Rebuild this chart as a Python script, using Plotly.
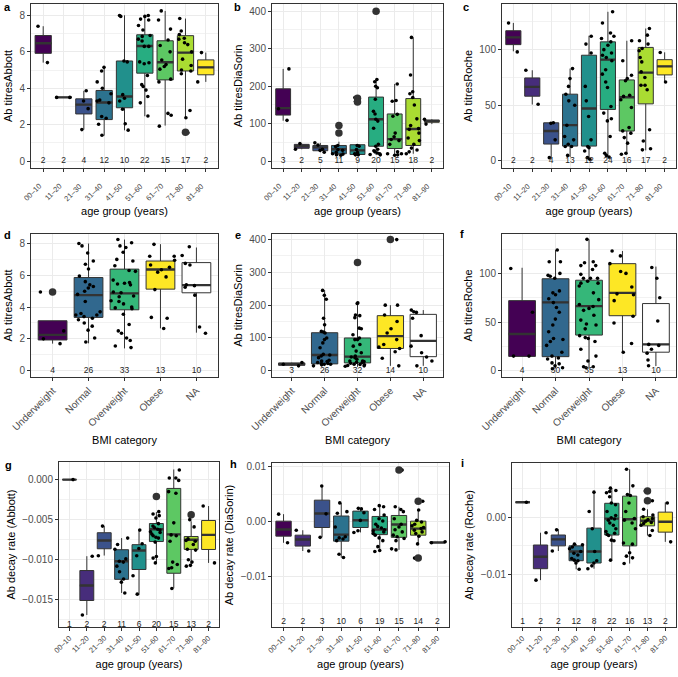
import plotly.graph_objects as go

W, H = 678, 677
FONT = "Liberation Sans, Arial, Helvetica, sans-serif"

AGE = ["00\u201310", "11\u201320", "21\u201330", "31\u201340", "41\u201350",
       "51\u201360", "61\u201370", "71\u201380", "81\u201390"]
BMI = ["Underweight", "Normal", "Overweight", "Obese", "NA"]
AGE_COLORS = ["#440154", "#472D7B", "#3B528B", "#2C728E", "#21908C",
              "#27AD81", "#5DC863", "#AADC32", "#FDE725"]
BMI_COLORS = ["#440154", "#31688E", "#35B779", "#FDE725", "#FFFFFF"]

# ---------------- panel a : Ab titres Abbott by age ----------------
a_counts = [2, 2, 4, 12, 10, 22, 15, 17, 2]
a_q1 = [5.92, 3.5, 2.59, 2.28, 2.93, 4.83, 4.46, 4.95, 4.74]
a_med = [6.47, 3.5, 3.10, 3.22, 3.55, 6.32, 5.43, 5.96, 5.15]
a_q3 = [6.90, 3.5, 3.42, 3.88, 5.50, 6.94, 6.61, 6.89, 5.56]
a_lo = [5.41, 3.5, 1.73, 1.40, 1.69, 2.46, 1.95, 2.40, 4.35]
a_hi = [7.41, 3.5, 3.86, 5.15, 8.01, 8.00, 8.25, 7.83, 5.96]
a_out = [[], [], [], [], [], [], [], [1.58], []]
a_pts = [
    [7.41, 5.41],
    [3.5, 3.5],
    [3.86, 3.3, 2.88, 1.73],
    [5.15, 4.95, 4.35, 4.0, 3.7, 3.35, 3.3, 3.2, 2.45, 2.35, 2.02, 1.42],
    [8.0, 7.95, 5.5, 5.45, 3.65, 3.45, 3.3, 2.85, 2.05, 1.7],
    [8.0, 7.95, 7.8, 7.75, 7.45, 7.2, 6.9, 6.85, 6.7, 6.6, 6.3, 6.3, 5.45, 5.4,
     5.35, 4.7, 4.2, 4.1, 3.9, 3.55, 3.2, 2.48],
    [8.25, 7.75, 7.25, 6.65, 6.35, 6.0, 5.55, 5.3, 5.2, 5.05, 4.5, 4.35, 2.62, 2.52, 1.92],
    [7.83, 7.15, 6.95, 6.75, 6.7, 6.5, 6.4, 6.0, 5.6, 5.25, 5.0, 4.95, 4.8, 2.78, 2.38, 1.58, 1.56],
    [5.96, 4.35],
]

# ---------------- panel b : Ab titres DiaSorin by age ----------------
b_counts = [3, 2, 5, 11, 9, 20, 15, 18, 2]
b_q1 = [123, 34.5, 28, 20, 18, 40, 34, 42, 104]
b_med = [141.6, 40, 37, 32, 29, 112, 59, 86, 107]
b_q3 = [193, 45, 42, 42, 44, 171, 126, 167, 110]
b_lo = [108, 32, 24, 16, 16, 17, 16, 20, 99]
b_hi = [246, 47, 49, 52, 44, 218, 206, 330, 112]
b_out = [[], [], [], [95, 75], [168, 158], [400], [], [], []]
b_pts = [
    [246, 140, 109],
    [47, 32],
    [49, 43, 32, 29, 24],
    [95, 74, 42, 39, 31, 29, 24, 20, 19, 17, 16],
    [170, 160, 42, 40, 31, 23, 20, 17, 17],
    [400, 218, 212, 200, 196, 165, 133, 126, 112, 107, 88, 45, 40, 32, 28, 25, 22, 20, 18, 17],
    [206, 162, 160, 125, 120, 75, 65, 58, 55, 45, 25, 20, 20, 17, 16],
    [330, 230, 185, 180, 170, 150, 113, 95, 87, 85, 75, 62, 55, 45, 35, 30, 25, 20],
    [112, 99],
]

# ---------------- panel c : Ab titres Roche by age ----------------
c_counts = [2, 2, 4, 13, 12, 24, 16, 17, 2]
c_q1 = [104.5, 58.2, 15.2, 13.4, 13.4, 46.3, 26.9, 51.3, 77.3]
c_med = [111, 66.6, 26.9, 32.2, 47.2, 91, 57.3, 79.4, 85]
c_q3 = [117, 74.6, 34.3, 60, 95, 107, 72.8, 102, 91]
c_lo = [98.5, 50.7, 3, 3.6, 1.5, 3.5, 6, 9.5, 71.3]
c_hi = [124, 81.5, 34.3, 83, 112.5, 134, 108, 119, 97.6]
c_out = [[], [], [], [], [], [], [], [], []]
c_pts = [
    [124, 98],
    [81.5, 51],
    [34.3, 33.8, 19, 3],
    [83, 74, 67, 60, 54, 50, 32, 22, 19, 15, 13, 13, 5],
    [112, 105, 97, 67, 54, 40, 19, 13, 12, 9, 3, 1.5],
    [134, 124, 115, 112, 110, 107, 104, 100, 97, 95, 93, 90, 82, 78, 71, 66, 49, 43,
     38, 36, 22, 7, 3.5, 5],
    [108, 90, 77, 74, 72, 59, 58, 55, 48, 30, 27, 25, 21, 16, 7, 6],
    [119, 113, 108, 105, 101, 99, 93, 89, 80, 75, 68, 68, 64, 28, 18, 11, 10],
    [97.5, 71],
]

# ---------------- panel d : Abbott by BMI ----------------
d_counts = [4, 26, 33, 13, 10]
d_q1 = [1.93, 3.35, 3.83, 5.13, 4.90]
d_med = [2.25, 4.75, 4.86, 6.37, 5.38]
d_q3 = [3.14, 5.86, 6.39, 6.90, 6.80]
d_lo = [1.70, 1.72, 1.40, 2.66, 2.39]
d_hi = [3.14, 8.0, 8.25, 7.96, 7.75]
d_out = [[4.95], [], [], [], []]
d_pts = [
    [4.95, 2.5, 2.0, 1.7],
    [8.0, 7.85, 7.4, 6.9, 6.7, 6.4, 5.95, 5.6, 5.4, 5.3, 5.2, 5.0, 4.8, 4.35, 3.7, 3.6,
     3.5, 3.5, 3.4, 3.3, 3.2, 3.0, 2.8, 2.55, 2.05, 1.8],
    [8.25, 8.05, 7.85, 7.75, 7.45, 7.0, 6.9, 6.6, 6.3, 6.25, 5.7, 5.55, 5.5, 5.45, 5.4,
     4.95, 4.9, 4.7, 4.65, 4.4, 4.35, 4.2, 4.0, 3.95, 3.9, 3.55, 2.9, 2.5, 2.35, 2.05,
     1.9, 1.55, 1.45],
    [7.95, 7.2, 7.2, 6.95, 6.65, 6.5, 6.35, 6.2, 5.9, 5.1, 3.35, 3.3, 2.65],
    [7.8, 7.25, 6.75, 6.65, 5.4, 5.35, 5.25, 4.75, 2.75, 2.35],
]

# ---------------- panel e : DiaSorin by BMI ----------------
e_counts = [3, 26, 32, 14, 10]
e_q1 = [17, 21, 24, 68, 43]
e_med = [20, 48, 43, 105.6, 91]
e_q3 = [24, 116, 100, 168, 172]
e_lo = [15, 15, 12, 15, 15]
e_hi = [25, 246, 207, 200, 185]
e_out = [[], [], [330], [400], []]
e_pts = [
    [25, 20, 15],
    [245, 230, 218, 160, 140, 120, 118, 115, 100, 95, 85, 70, 50, 48, 45, 40, 32, 30,
     28, 25, 22, 22, 20, 20, 18, 15],
    [330, 207, 205, 170, 168, 162, 130, 128, 110, 100, 95, 95, 80, 75, 60, 55, 45, 42,
     40, 35, 30, 30, 28, 26, 25, 23, 20, 19, 18, 16, 15, 14],
    [400, 200, 200, 170, 150, 128, 115, 95, 80, 72, 68, 58, 38, 15],
    [185, 180, 178, 160, 107, 75, 55, 42, 30, 15],
]

# ---------------- panel f : Roche by BMI ----------------
f_counts = [4, 30, 35, 13, 10]
f_q1 = [14.7, 14.4, 36.6, 56.5, 19]
f_med = [37.7, 70.2, 66.4, 80, 27]
f_q3 = [72, 94.5, 93, 110, 69]
f_lo = [14.7, 2.4, 2.4, 19, 4.8]
f_hi = [105.8, 124, 135, 123, 107]
f_out = [[], [], [], [], []]
f_pts = [
    [105, 60, 15, 15],
    [124, 112, 112, 100, 98, 97, 95, 82, 80, 78, 74, 70, 65, 60, 53, 47, 40, 33, 32,
     30, 26, 19, 15, 13, 12, 8, 7, 5, 3, 2],
    [135, 112, 111, 108, 108, 104, 99, 95, 95, 95, 92, 90, 90, 87, 80, 73, 68, 66, 64,
     62, 57, 52, 48, 47, 43, 36, 34, 33, 30, 22, 15, 10, 4, 4, 3],
    [123, 118, 110, 102, 100, 86, 79, 78, 72, 56, 49, 28, 19],
    [106, 95, 75, 51, 27, 26, 22, 18, 11, 5],
]

# ---------------- panel g : decay rate Abbott ----------------
g_counts = [1, 2, 2, 11, 6, 20, 15, 13, 2]
g_q1 = [0, -0.01509, -0.00863, -0.01245, -0.01122, -0.00773, -0.01169, -0.00871, -0.00872]
g_med = [0, -0.01322, -0.0076, -0.0102, -0.00884, -0.0062, -0.00684, -0.0075, -0.0069]
g_q3 = [0, -0.01135, -0.00663, -0.00875, -0.00812, -0.00548, -0.0011, -0.0071, -0.0051]
g_lo = [0, -0.0169, -0.00948, -0.01415, -0.01436, -0.0104, -0.01356, -0.0108, -0.0104]
g_hi = [0, -0.00956, -0.00578, -0.0073, -0.0063, -0.00404, 0.00127, -0.0052, -0.0033]
g_out = [[], [], [], [], [], [-0.0021], [], [-0.0044], []]
g_pts = [
    [0.0],
    [-0.00956, -0.0169],
    [-0.0058, -0.0095],
    [-0.0073, -0.0081, -0.0087, -0.0099, -0.0102, -0.0103, -0.0108, -0.0115, -0.0124,
     -0.0128, -0.01415],
    [-0.0063, -0.0080, -0.0086, -0.0095, -0.0120, -0.0143],
    [-0.0021, -0.0040, -0.0043, -0.0045, -0.0048, -0.0055, -0.0058, -0.0060, -0.0062,
     -0.0063, -0.0065, -0.0066, -0.0068, -0.0070, -0.0072, -0.0073, -0.0078, -0.0096,
     -0.0098, -0.0104],
    [0.0012, 0.0002, 0.0002, -0.0001, -0.0015, -0.0017, -0.0054, -0.0069, -0.0070,
     -0.0077, -0.0103, -0.0106, -0.0110, -0.0111, -0.0136],
    [-0.0044, -0.0050, -0.0059, -0.0074, -0.0076, -0.0077, -0.0081, -0.0087, -0.0088,
     -0.0100, -0.0103, -0.0107, -0.0108],
    [-0.0033, -0.0104],
]

# ---------------- panel h : decay rate DiaSorin ----------------
h_counts = [2, 2, 3, 10, 6, 19, 15, 14, 2]
h_q1 = [-0.00268, -0.0045, -0.0011, -0.0036, -0.0011, -0.0024, -0.0029, -0.0025, -0.00385]
h_med = [-0.00146, -0.0033, 0.00146, -0.0024, 0.00024, -0.00146, -0.00055, -0.0013, -0.00385]
h_q3 = [0.00006, -0.0025, 0.0039, 0.0010, 0.0019, 0.00092, 0.0011, 0.00006, -0.00385]
h_lo = [-0.0039, -0.0054, -0.0029, -0.0066, -0.0020, -0.0055, -0.0052, -0.0041, -0.0039]
h_hi = [0.00134, -0.0016, 0.0065, 0.0034, 0.0024, 0.0029, 0.0027, 0.0021, -0.0037]
h_out = [[], [], [], [], [], [], [0.0094], [0.0037, -0.0067], []]
h_pts = [
    [0.00134, -0.0039],
    [-0.0016, -0.0054],
    [0.0065, 0.0014, -0.0029],
    [0.0034, 0.0018, 0.0015, -0.0010, -0.0028, -0.0030, -0.0032, -0.0035, -0.0060, -0.0066],
    [0.0024, 0.0023, 0.0016, 0.0002, -0.0017, -0.0020],
    [0.0029, 0.0027, 0.0022, 0.0012, 0.0005, 0.0001, -0.0005, -0.0009, -0.0012, -0.0015,
     -0.0017, -0.0019, -0.0022, -0.0025, -0.0030, -0.0035, -0.0046, -0.0053, -0.0055],
    [0.0094, 0.0027, 0.0022, 0.0018, 0.0005, -0.0005, -0.0010, -0.0015, -0.0019, -0.0025,
     -0.0028, -0.0031, -0.0035, -0.0050, -0.0052],
    [0.0037, 0.0021, 0.0002, -0.0001, -0.0005, -0.0008, -0.0011, -0.0013, -0.0016,
     -0.0019, -0.0022, -0.0027, -0.0041, -0.0067],
    [-0.0037, -0.0039],
]

# ---------------- panel i : decay rate Roche ----------------
i_counts = [1, 2, 2, 12, 8, 22, 16, 13, 2]
i_q1 = [0.00263, -0.009, -0.005, -0.0076, -0.008, -0.0031, -0.005, -0.0015, -0.0026]
i_med = [0.00263, -0.0069, -0.00386, -0.006, -0.006, -0.00023, -0.00035, -0.0006, -0.00078]
i_q3 = [0.00263, -0.00485, -0.0031, -0.005, -0.0019, 0.00245, 0.0037, 0.0001, 0.0009]
i_lo = [0.00263, -0.011, -0.0059, -0.0091, -0.009, -0.0075, -0.0081, -0.0032, -0.0043]
i_hi = [0.00263, -0.0027, -0.0021, -0.0047, 0.0044, 0.0051, 0.0084, 0.0014, 0.0026]
i_out = [[], [], [], [], [], [], [], [0.0046, 0.0029], []]
i_pts = [
    [0.00263],
    [-0.0027, -0.011],
    [-0.0022, -0.0059],
    [-0.0047, -0.0048, -0.0052, -0.0055, -0.0060, -0.0063, -0.0066, -0.0072, -0.0075,
     -0.0076, -0.0080, -0.0091],
    [0.0044, 0.0010, -0.0020, -0.0060, -0.0076, -0.0080, -0.0085, -0.0090],
    [0.0051, 0.0047, 0.0045, 0.0043, 0.0036, 0.0025, 0.0022, 0.0010, 0.0003, -0.0001,
     -0.0003, -0.0005, -0.0010, -0.0014, -0.0020, -0.0025, -0.0028, -0.0030, -0.0032,
     -0.0040, -0.0041, -0.0075],
    [0.0084, 0.0055, 0.0040, 0.0038, 0.0025, 0.0010, -0.0002, -0.0005, -0.0010, -0.0020,
     -0.0045, -0.0047, -0.0062, -0.0068, -0.0071, -0.0081],
    [0.0046, 0.0029, 0.0014, 0.0004, 0.0001, -0.0002, -0.0004, -0.0007, -0.0009, -0.0011,
     -0.0014, -0.0023, -0.0032],
    [0.0025, -0.0043],
]

# y-axis ticks
TITRE_A_TICKS = [0, 2, 4, 6, 8]
TITRE_B_TICKS = [0, 100, 200, 300, 400]
TITRE_C_TICKS = [0, 50, 100]
G_TICKS = [0, -0.005, -0.010, -0.015]
H_TICKS = [0.01, 0.0, -0.01]
I_TICKS = [0.0, -0.01]

panels = [
    dict(L="a", cats=AGE, col=AGE_COLORS, n=a_counts, q1=a_q1, med=a_med, q3=a_q3, lo=a_lo, hi=a_hi,
         pts=a_pts, out=a_out, cy=0, yt="Ab titresAbbott", xt="age group (years)",
         tv=TITRE_A_TICKS, tt=[str(v) for v in TITRE_A_TICKS], mv=[1, 3, 5, 7],
         yr=[-0.38, 8.63], px=(31, 218, 4, 168), lp=(2, 6.5)),
    dict(L="b", cats=AGE, col=AGE_COLORS, n=b_counts, q1=b_q1, med=b_med, q3=b_q3, lo=b_lo, hi=b_hi,
         pts=b_pts, out=b_out, cy=0, yt="Ab titresDiaSorin", xt="age group (years)",
         tv=TITRE_B_TICKS, tt=[str(v) for v in TITRE_B_TICKS], mv=[50, 150, 250, 350],
         yr=[-18, 419], px=(272, 443, 4, 168), lp=(232, 6.5)),
    dict(L="c", cats=AGE, col=AGE_COLORS, n=c_counts, q1=c_q1, med=c_med, q3=c_q3, lo=c_lo, hi=c_hi,
         pts=c_pts, out=c_out, cy=0, yt="Ab titresRoche", xt="age group (years)",
         tv=TITRE_C_TICKS, tt=[str(v) for v in TITRE_C_TICKS], mv=[25, 75, 125],
         yr=[-6.3, 141], px=(502, 676, 4, 168), lp=(461, 6.5)),
    dict(L="d", cats=BMI, col=BMI_COLORS, n=d_counts, q1=d_q1, med=d_med, q3=d_q3, lo=d_lo, hi=d_hi,
         pts=d_pts, out=d_out, cy=0, yt="Ab titresAbbott", xt="BMI category",
         tv=TITRE_A_TICKS, tt=[str(v) for v in TITRE_A_TICKS], mv=[1, 3, 5, 7],
         yr=[-0.4, 8.6], px=(31, 218, 234, 377), lp=(2, 235)),
    dict(L="e", cats=BMI, col=BMI_COLORS, n=e_counts, q1=e_q1, med=e_med, q3=e_q3, lo=e_lo, hi=e_hi,
         pts=e_pts, out=e_out, cy=0, yt="Ab titresDiaSorin", xt="BMI category",
         tv=TITRE_B_TICKS, tt=[str(v) for v in TITRE_B_TICKS], mv=[50, 150, 250, 350],
         yr=[-19, 417], px=(272, 443, 234, 377), lp=(233, 235)),
    dict(L="f", cats=BMI, col=BMI_COLORS, n=f_counts, q1=f_q1, med=f_med, q3=f_q3, lo=f_lo, hi=f_hi,
         pts=f_pts, out=f_out, cy=0, yt="Ab titresRoche", xt="BMI category",
         tv=TITRE_C_TICKS, tt=[str(v) for v in TITRE_C_TICKS], mv=[25, 75, 125],
         yr=[-6.5, 140.5], px=(502, 676, 234, 377), lp=(458, 234)),
    dict(L="g", cats=AGE, col=AGE_COLORS, n=g_counts, q1=g_q1, med=g_med, q3=g_q3, lo=g_lo, hi=g_hi,
         pts=g_pts, out=g_out, cy=-0.0181, yt="Ab decay rate (Abbott)", xt="age group (years)",
         tv=G_TICKS, tt=["0.000", "\u22120.005", "\u22120.010", "\u22120.015"],
         mv=[-0.0025, -0.0075, -0.0125, -0.0175],
         yr=[-0.0184, 0.0022], px=(59, 219, 462, 627), lp=(3, 465)),
    dict(L="h", cats=AGE, col=AGE_COLORS, n=h_counts, q1=h_q1, med=h_med, q3=h_q3, lo=h_lo, hi=h_hi,
         pts=h_pts, out=h_out, cy=-0.0184, yt="Ab decay rate (DiaSorin)", xt="age group (years)",
         tv=H_TICKS, tt=["0.01", "0.00", "\u22120.01"], mv=[0.005, -0.005, -0.015],
         yr=[-0.0193, 0.0107], px=(272, 449, 463, 627), lp=(228, 464)),
    dict(L="i", cats=AGE, col=AGE_COLORS, n=i_counts, q1=i_q1, med=i_med, q3=i_q3, lo=i_lo, hi=i_hi,
         pts=i_pts, out=i_out, cy=-0.0183, yt="Ab decay rate (Roche)", xt="age group (years)",
         tv=I_TICKS, tt=["0.00", "\u22120.01"], mv=[0.005, -0.005, -0.015],
         yr=[-0.0192, 0.0095], px=(512, 676, 463, 627), lp=(459, 463)),
]

# age-axis rows draw their rotated labels as annotations:
# row -> (label-centre x offset px, label-centre y px, title standoff)
AGE_LABEL_STYLE = {0: (-11, 192, 36), 2: (-7, 644, 30)}

BOXW = 0.8
GRID = "#EBEBEB"
DARK = "#333333"

fig = go.Figure()
annotations = []
layout = dict(width=W, height=H, margin=dict(l=0, r=0, t=0, b=0, autoexpand=False),
              paper_bgcolor="white", plot_bgcolor="white", showlegend=False,
              boxmode="overlay", font=dict(family=FONT, color="black"))

for k, p in enumerate(panels, start=1):
    xa = "x" if k == 1 else f"x{k}"
    ya = "y" if k == 1 else f"y{k}"
    row = (k - 1) // 3
    cats = p["cats"]
    ncat = len(cats)
    for j, c in enumerate(cats):
        fig.add_trace(go.Box(
            x=[c], q1=[p["q1"][j]], median=[p["med"][j]], q3=[p["q3"][j]],
            lowerfence=[p["lo"][j]], upperfence=[p["hi"][j]],
            fillcolor=p["col"][j], line=dict(color=DARK, width=1),
            width=BOXW, whiskerwidth=0, boxpoints=False,
            xaxis=xa, yaxis=ya, hoverinfo="skip"))
    fig.add_trace(go.Box(
        x=cats, q1=p["med"], median=p["med"], q3=p["med"],
        lowerfence=p["med"], upperfence=p["med"],
        fillcolor="rgba(0,0,0,0)", line=dict(color=DARK, width=2.4),
        width=BOXW, whiskerwidth=0, boxpoints=False,
        xaxis=xa, yaxis=ya, hoverinfo="skip"))
    ox = [c for c, vals in zip(cats, p["out"]) for _ in vals]
    oy = [v for vals in p["out"] for v in vals]
    if oy:
        fig.add_trace(go.Scatter(x=ox, y=oy, mode="markers",
                                 marker=dict(color=DARK, size=7.5),
                                 xaxis=xa, yaxis=ya, hoverinfo="skip"))
    px_ = [c for c, vals in zip(cats, p["pts"]) for _ in vals]
    py_ = [v for vals in p["pts"] for v in vals]
    fig.add_trace(go.Box(
        x=px_, y=py_, boxpoints="all", jitter=1, pointpos=0,
        fillcolor="rgba(0,0,0,0)", line=dict(color="rgba(0,0,0,0)", width=0),
        marker=dict(color="black", size=3.6), width=BOXW, whiskerwidth=0,
        xaxis=xa, yaxis=ya, hoverinfo="skip"))
    fig.add_trace(go.Scatter(
        x=cats, y=[p["cy"]] * ncat, mode="text", text=[str(v) for v in p["n"]],
        textposition="middle center", textfont=dict(size=8.5, color="#222222", family=FONT),
        xaxis=xa, yaxis=ya, hoverinfo="skip"))

    l, r, t, b = p["px"]
    xaxis = dict(
        domain=[l / W, r / W], anchor=ya, type="category", automargin=False,
        categoryorder="array", categoryarray=cats, range=[-0.6, ncat - 0.4],
        tickangle=-45, showgrid=True, gridcolor=GRID, gridwidth=1,
        showline=True, mirror=True, linecolor=DARK, linewidth=1,
        ticks="outside", ticklen=3, tickcolor=DARK, tickwidth=1,
        tickfont=dict(size=10, color="#4D4D4D", family=FONT),
        title=dict(text=p["xt"], font=dict(size=11, color="black", family=FONT), standoff=4),
        zeroline=False, fixedrange=True)
    if row in AGE_LABEL_STYLE:
        dx, cyp, stand = AGE_LABEL_STYLE[row]
        xaxis["showticklabels"] = False
        xaxis["title"]["standoff"] = stand
        for c in cats:
            annotations.append(dict(
                text=c, x=c, xref=xa, y=1 - cyp / H, yref="paper", xshift=dx,
                textangle=-45, xanchor="center", yanchor="middle", showarrow=False,
                font=dict(size=7.5, color="#444444", family=FONT)))
    layout["xaxis" if k == 1 else f"xaxis{k}"] = xaxis
    layout["yaxis" if k == 1 else f"yaxis{k}"] = dict(
        domain=[1 - b / H, 1 - t / H], anchor=xa, range=p["yr"], automargin=False,
        tickmode="array", tickvals=p["tv"], ticktext=p["tt"],
        showgrid=True, gridcolor=GRID, gridwidth=1,
        minor=dict(tickmode="array", tickvals=p["mv"], showgrid=True,
                   gridcolor="#F2F2F2", gridwidth=0.6, ticks=""),
        showline=True, mirror=True, linecolor=DARK, linewidth=1,
        ticks="outside", ticklen=3, tickcolor=DARK, tickwidth=1,
        tickfont=dict(size=10, color="#4D4D4D", family=FONT),
        title=dict(text=p["yt"], font=dict(size=11, color="black", family=FONT), standoff=4),
        zeroline=False, fixedrange=True)
    lx, ly = p["lp"]
    annotations.append(dict(text=f"<b>{p['L']}</b>", x=lx / W, y=1 - ly / H,
                            xref="paper", yref="paper", xanchor="left", yanchor="middle",
                            showarrow=False, font=dict(size=11, color="black", family=FONT)))

layout["annotations"] = annotations
fig.update_layout(**layout)
fig.write_html("out.html", config={"displayModeBar": False},
               post_script="document.body.style.margin='0';document.body.style.overflow='hidden';")
